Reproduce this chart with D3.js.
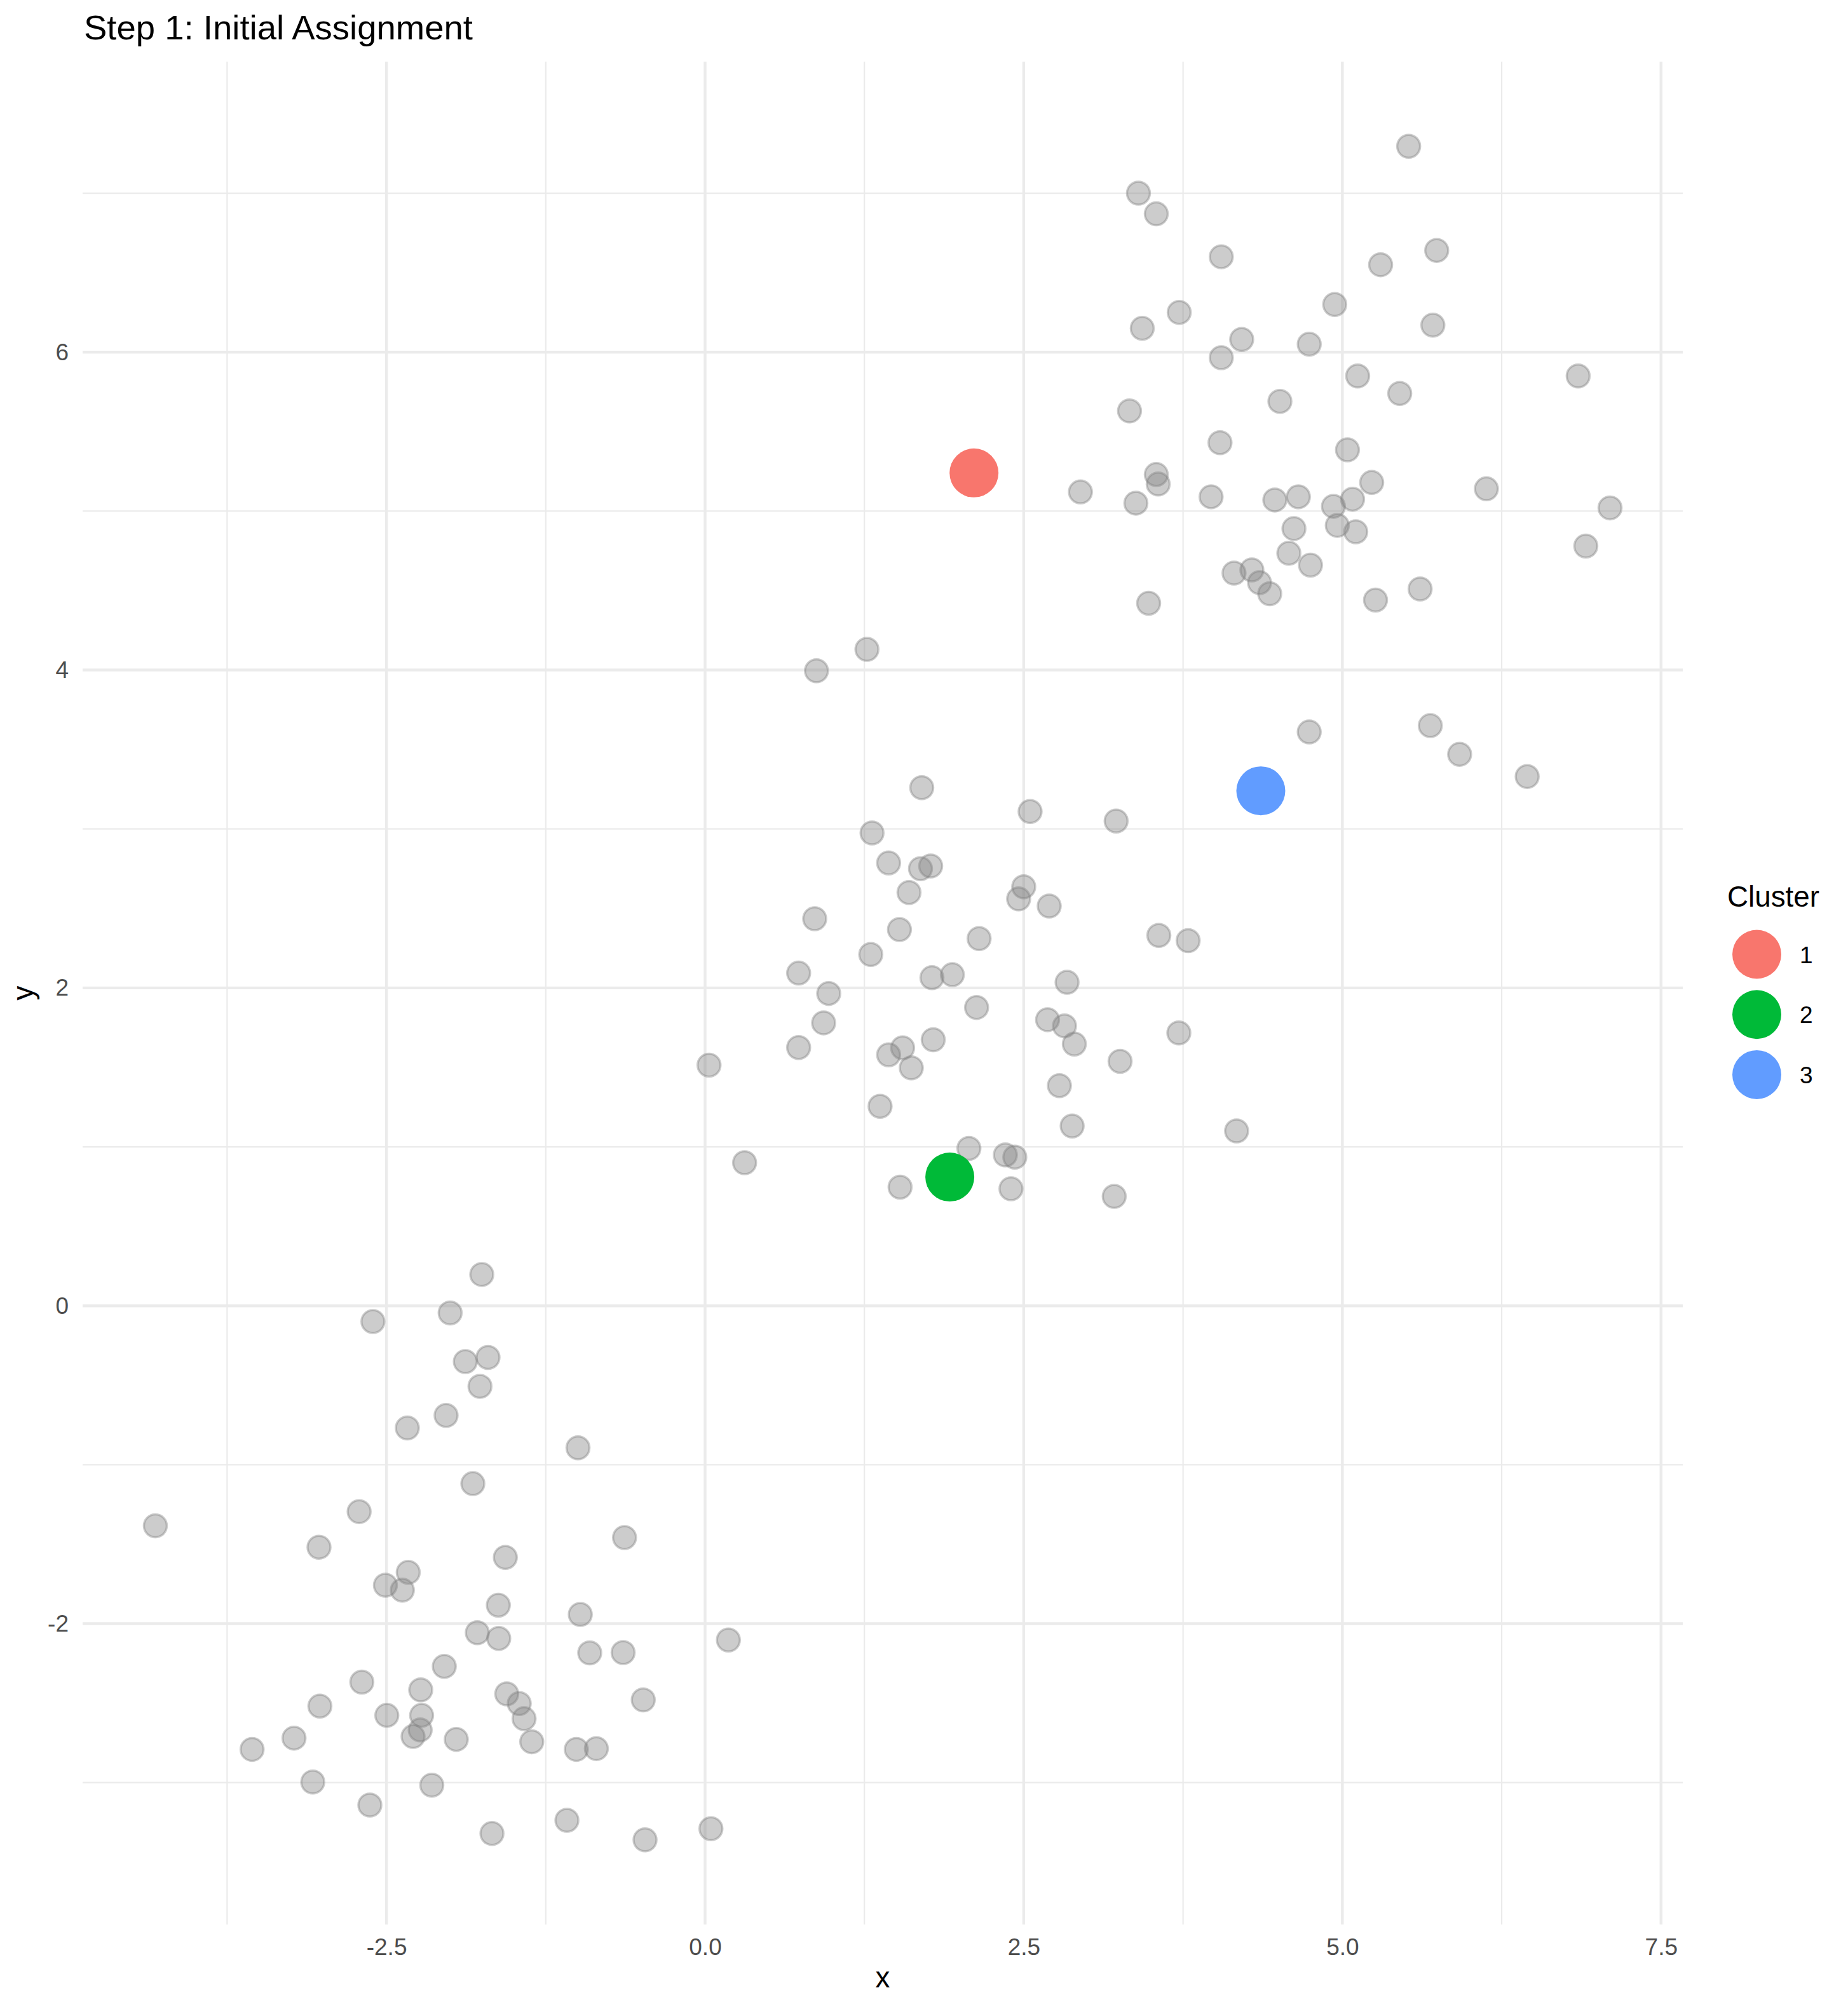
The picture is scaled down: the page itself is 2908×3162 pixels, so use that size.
<!DOCTYPE html>
<html><head><meta charset="utf-8">
<script src="https://cdn.jsdelivr.net/npm/d3@7"></script>
<style>
body{margin:0;background:#fff}
svg{display:block}
text{font-family:"Liberation Sans", Arial, Helvetica, sans-serif}
</style>
</head><body>
<svg id="chart" width="2908" height="3162"></svg>
<script>
// ---- data ----
const pointX = [
  5.52, 3.40, 3.54, 4.05, 5.74, 5.30, 4.94, 3.72, 3.43, 5.71, 4.21, 4.74, 4.05, 5.12, 6.85,
  5.45, 4.51, 3.33, 4.04, 5.04, 3.54, 3.555, 5.23, 6.13, 2.945, 3.97, 4.655, 4.47, 5.08, 3.38,
  4.93, 7.10, 4.96, 4.62, 5.105, 6.91, 4.58, 4.75, 4.15, 4.29, 4.35, 4.43, 5.61, 5.26, 3.48,
  1.27, 0.874, 4.74, 5.69, 5.92, 6.45,
  1.70, 2.55, 3.225, 1.31, 1.44, 1.69, 1.77, 2.50, 2.46, 1.60, 2.70, 0.86, 1.525, 2.15, 3.56,
  3.79, 1.30, 0.734, 1.78, 1.94, 2.84, 0.97, 2.13, 0.93, 2.687, 2.82, 3.717, 1.79, 2.897, 0.734,
  1.55, 1.44, 3.256, 1.618, 0.031, 2.78, 1.373, 2.88, 4.17, 2.07, 2.356, 2.43, 0.31, 1.53, 2.40,
  3.21,
  -1.752, -2.606, -2.0, -1.881, -1.703, -1.766, -2.032, -2.336, -0.997, -1.822, -4.313, -2.714, -3.029, -0.632, -1.567,
  -2.329, -2.508, -2.375, -1.622, -0.979, -1.787, -1.619, 0.183, -0.905, -0.643, -2.046, -2.693, -2.231, -1.556, -1.458,
  -1.42, -0.485, -3.022, -2.497, -2.224, -2.235, -2.291, -3.225, -1.952, -1.360, -3.554, -1.010, -0.853, -3.078, -2.144,
  -2.630, -1.084, -1.672, -0.471, 0.046
];
const pointY = [
  7.295, 7.00, 6.87, 6.60, 6.64, 6.55, 6.30, 6.25, 6.15, 6.17, 6.08, 6.05, 5.965, 5.85, 5.85,
  5.74, 5.69, 5.63, 5.43, 5.385, 5.23, 5.17, 5.18, 5.14, 5.12, 5.09, 5.09, 5.07, 5.075, 5.05,
  5.03, 5.02, 4.91, 4.89, 4.87, 4.78, 4.735, 4.66, 4.61, 4.63, 4.55, 4.48, 4.51, 4.44, 4.42,
  4.13, 3.995, 3.61, 3.65, 3.47, 3.33,
  3.26, 3.11, 3.05, 2.975, 2.786, 2.75, 2.767, 2.636, 2.56, 2.60, 2.515, 2.435, 2.367, 2.31, 2.33,
  2.297, 2.21, 2.093, 2.064, 2.083, 2.035, 1.965, 1.877, 1.78, 1.80, 1.761, 1.717, 1.674, 1.647, 1.625,
  1.623, 1.579, 1.538, 1.497, 1.514, 1.385, 1.255, 1.131, 1.10, 0.99, 0.949, 0.935, 0.90, 0.746, 0.736,
  0.688,
  0.197, -0.099, -0.045, -0.351, -0.325, -0.507, -0.690, -0.769, -0.894, -1.119, -1.384, -1.295, -1.519, -1.458, -1.583,
  -1.677, -1.758, -1.789, -1.884, -1.942, -2.057, -2.093, -2.103, -2.184, -2.182, -2.269, -2.368, -2.417, -2.442, -2.503,
  -2.598, -2.48, -2.519, -2.577, -2.577, -2.669, -2.710, -2.72, -2.728, -2.743, -2.791, -2.791, -2.786, -2.996, -3.016,
  -3.141, -3.237, -3.32, -3.36, -3.29
];
const centroidX = [2.11, 1.92, 4.36];
const centroidY = [5.24, 0.81, 3.24];
const clusterLabels = ["1", "2", "3"];
const clusterColors = ["#F8766D", "#00BA38", "#619CFF"];
const xTicks = [-2.5, 0, 2.5, 5, 7.5];
const xMinor = [-3.75, -1.25, 1.25, 3.75, 6.25];
const yTicks = [-2, 0, 2, 4, 6];
const yMinor = [-3, -1, 1, 3, 5, 7];
const titleText = "Step 1: Initial Assignment";
const xTitle = "x", yTitle = "y", legendTitle = "Cluster";

// ---- layout ----
const svg = d3.select("#chart");
const panel = {left: 130, right: 2648, top: 97, bottom: 3029};

function expand(ext) { const r = ext[1] - ext[0]; return [ext[0] - 0.05 * r, ext[1] + 0.05 * r]; }
const allX = pointX.concat(centroidX), allY = pointY.concat(centroidY);
const x = d3.scaleLinear().domain(expand(d3.extent(allX))).range([panel.left, panel.right]);
const y = d3.scaleLinear().domain(expand(d3.extent(allY))).range([panel.bottom, panel.top]);

svg.append("rect").attr("width", 2908).attr("height", 3162).attr("fill", "#fff");

const grid = svg.append("g");
grid.selectAll(".xmin").data(xMinor).join("line")
  .attr("x1", d => x(d)).attr("x2", d => x(d)).attr("y1", panel.top).attr("y2", panel.bottom)
  .attr("stroke", "#EBEBEB").attr("stroke-width", 2.2);
grid.selectAll(".ymin").data(yMinor).join("line")
  .attr("y1", d => y(d)).attr("y2", d => y(d)).attr("x1", panel.left).attr("x2", panel.right)
  .attr("stroke", "#EBEBEB").attr("stroke-width", 2.2);
grid.selectAll(".xmaj").data(xTicks).join("line")
  .attr("x1", d => x(d)).attr("x2", d => x(d)).attr("y1", panel.top).attr("y2", panel.bottom)
  .attr("stroke", "#EBEBEB").attr("stroke-width", 4.4);
grid.selectAll(".ymaj").data(yTicks).join("line")
  .attr("y1", d => y(d)).attr("y2", d => y(d)).attr("x1", panel.left).attr("x2", panel.right)
  .attr("stroke", "#EBEBEB").attr("stroke-width", 4.4);

// axes (labels only)
const xAxis = svg.append("g").attr("transform", `translate(0,${panel.bottom})`)
  .call(d3.axisBottom(x).tickValues(xTicks).tickSize(0).tickPadding(22).tickFormat(d => d.toFixed(1)));
const yAxis = svg.append("g").attr("transform", `translate(${panel.left},0)`)
  .call(d3.axisLeft(y).tickValues(yTicks).tickSize(0).tickPadding(22).tickFormat(d => String(d)));
[xAxis, yAxis].forEach(a => {
  a.select(".domain").remove();
  a.selectAll("text").attr("font-size", 37).attr("fill", "#4D4D4D")
    .attr("font-family", '"Liberation Sans", Arial, Helvetica, sans-serif');
});

// points
const pts = pointX.map((v, i) => ({x: v, y: pointY[i]}));
svg.append("g").selectAll("circle").data(pts).join("circle")
  .attr("cx", d => x(d.x)).attr("cy", d => y(d.y)).attr("r", 18)
  .attr("fill", "#7F7F7F").attr("fill-opacity", 0.4)
  .attr("stroke", "#7F7F7F").attr("stroke-opacity", 0.4).attr("stroke-width", 3.5);

// centroids
const cents = centroidX.map((v, i) => ({x: v, y: centroidY[i], c: clusterColors[i]}));
svg.append("g").selectAll("circle").data(cents).join("circle")
  .attr("cx", d => x(d.x)).attr("cy", d => y(d.y)).attr("r", 38.5)
  .attr("fill", d => d.c);

// titles
svg.append("text").attr("x", panel.left + 2).attr("y", 62).attr("font-size", 54.5).attr("fill", "#000").text(titleText);
svg.append("text").attr("x", (panel.left + panel.right) / 2).attr("y", 3128).attr("text-anchor", "middle")
  .attr("font-size", 45.8).attr("fill", "#000").text(xTitle);
svg.append("text").attr("transform", `translate(52,${(panel.top + panel.bottom) / 2}) rotate(-90)`)
  .attr("text-anchor", "middle").attr("font-size", 45.8).attr("fill", "#000").text(yTitle);

// legend
const leg = svg.append("g");
leg.append("text").attr("x", 2718).attr("y", 1427).attr("font-size", 45.8).attr("fill", "#000").text(legendTitle);
const items = clusterLabels.map((l, i) => ({l, c: clusterColors[i], i}));
leg.selectAll("circle").data(items).join("circle")
  .attr("cx", 2764.5).attr("cy", d => 1502 + d.i * 94.7).attr("r", 38.5).attr("fill", d => d.c);
leg.selectAll(".lab").data(items).join("text")
  .attr("x", 2832).attr("y", d => 1502 + d.i * 94.7 + 13.5).attr("font-size", 37).attr("fill", "#000").text(d => d.l);
</script>
</body></html>
